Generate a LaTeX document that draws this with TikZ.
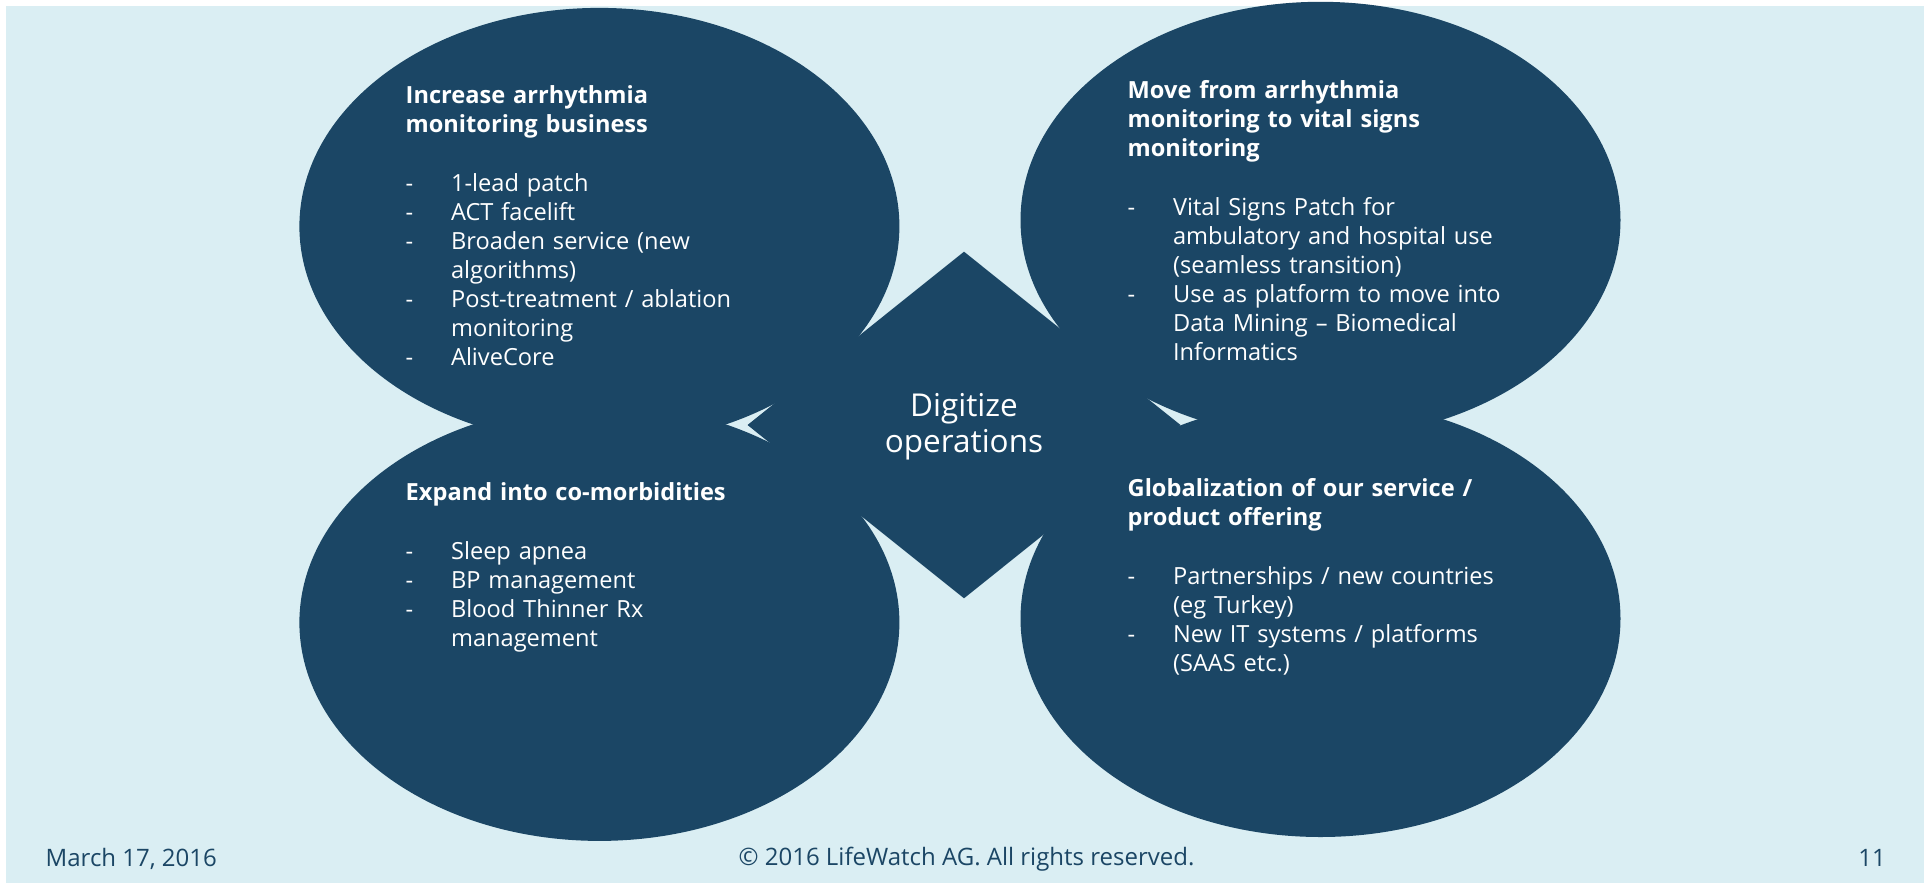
\documentclass[tikz,border=0pt]{standalone}
\usepackage{fontspec}
\setmainfont{Open Sans}
\usetikzlibrary{shapes.geometric}
\definecolor{navy}{RGB}{27,70,101}
\definecolor{pale}{RGB}{218,238,243}
% list item with a dash and a hanging indent
\newcommand\dashitem[1]{\makebox[45.4pt][l]{-}#1}
\newcommand\dashcont[1]{\hspace*{45.4pt}#1}

\begin{document}
\begin{tikzpicture}[x=1pt,y=-1pt,
  blob/.style={ellipse, fill=navy, draw=none, inner sep=0pt,
    minimum width=600pt, minimum height=436.8pt},
  body/.style={text=white, align=left, text width=440pt, inner sep=0pt,
    anchor=base west, font=\fontsize{23.6}{28.9}\selectfont},
  foot/.style={text=navy, inner sep=0pt, anchor=base,
    font=\fontsize{24}{28.8}\selectfont}]
\useasboundingbox (0,0) rectangle (1924,883);
\fill[white] (0,0) rectangle (1924,883);
\fill[pale] (6,6) rectangle (1924,883);

% four strategy ellipses
\node[blob] (tl) at (599.4,226.3) {};
\node[blob] (bl) at (599.4,622.5) {};
\node[blob] (tr) at (1320.5,220.2) {};
\node[blob] (br) at (1320.5,618.6) {};

% central rhombus
\coordinate (dtop) at (964,251.7);
\coordinate (dright) at (1180.5,425);
\coordinate (dbottom) at (964,598.3);
\coordinate (dleft) at (747.5,425);
\fill[navy] (dtop) -- (dright) -- (dbottom) -- (dleft) -- cycle;

% the base anchor sits on the last line here
\node[text=white, align=center, inner sep=0pt, anchor=base,
  font=\fontsize{31.5}{36}\selectfont] (core) at (964,452.7)
  {Digitize\\operations};

% texts inside the ellipses
\node[body] (tltext) at (405.5,103.5) {%
  \textbf{Increase arrhythmia}\\
  \textbf{monitoring business}\\[30.5pt]
  \dashitem{1-lead patch}\\
  \dashitem{ACT facelift}\\
  \dashitem{Broaden service (new}\\
  \dashcont{algorithms)}\\
  \dashitem{Post-treatment / ablation}\\
  \dashcont{monitoring}\\
  \dashitem{AliveCore}};

\node[body] (trtext) at (1127.5,98.5) {%
  \textbf{Move from arrhythmia}\\
  \textbf{monitoring to vital signs}\\
  \textbf{monitoring}\\[30.5pt]
  \dashitem{Vital Signs Patch for}\\
  \dashcont{ambulatory and hospital use}\\
  \dashcont{(seamless transition)}\\
  \dashitem{Use as platform to move into}\\
  \dashcont{Data Mining – Biomedical}\\
  \dashcont{Informatics}};

\node[body] (bltext) at (405.5,500.7) {%
  \textbf{Expand into co-morbidities}\\[30pt]
  \dashitem{Sleep apnea}\\
  \dashitem{BP management}\\
  \dashitem{Blood Thinner Rx}\\
  \dashcont{management}};

\node[body] (brtext) at (1127.5,496.7) {%
  \textbf{Globalization of our service /}\\
  \textbf{product offering}\\[30pt]
  \dashitem{Partnerships / new countries}\\
  \dashcont{(eg Turkey)}\\
  \dashitem{New IT systems / platforms}\\
  \dashcont{(SAAS etc.)}};

% footer
\node[foot, anchor=base west] (date) at (45.5,866) {March 17, 2016};
\node[foot] (copy) at (966.5,865.5) {© 2016 LifeWatch AG. All rights reserved.};
\node[foot, anchor=base east] (page) at (1886,866) {11};
\end{tikzpicture}
\end{document}
